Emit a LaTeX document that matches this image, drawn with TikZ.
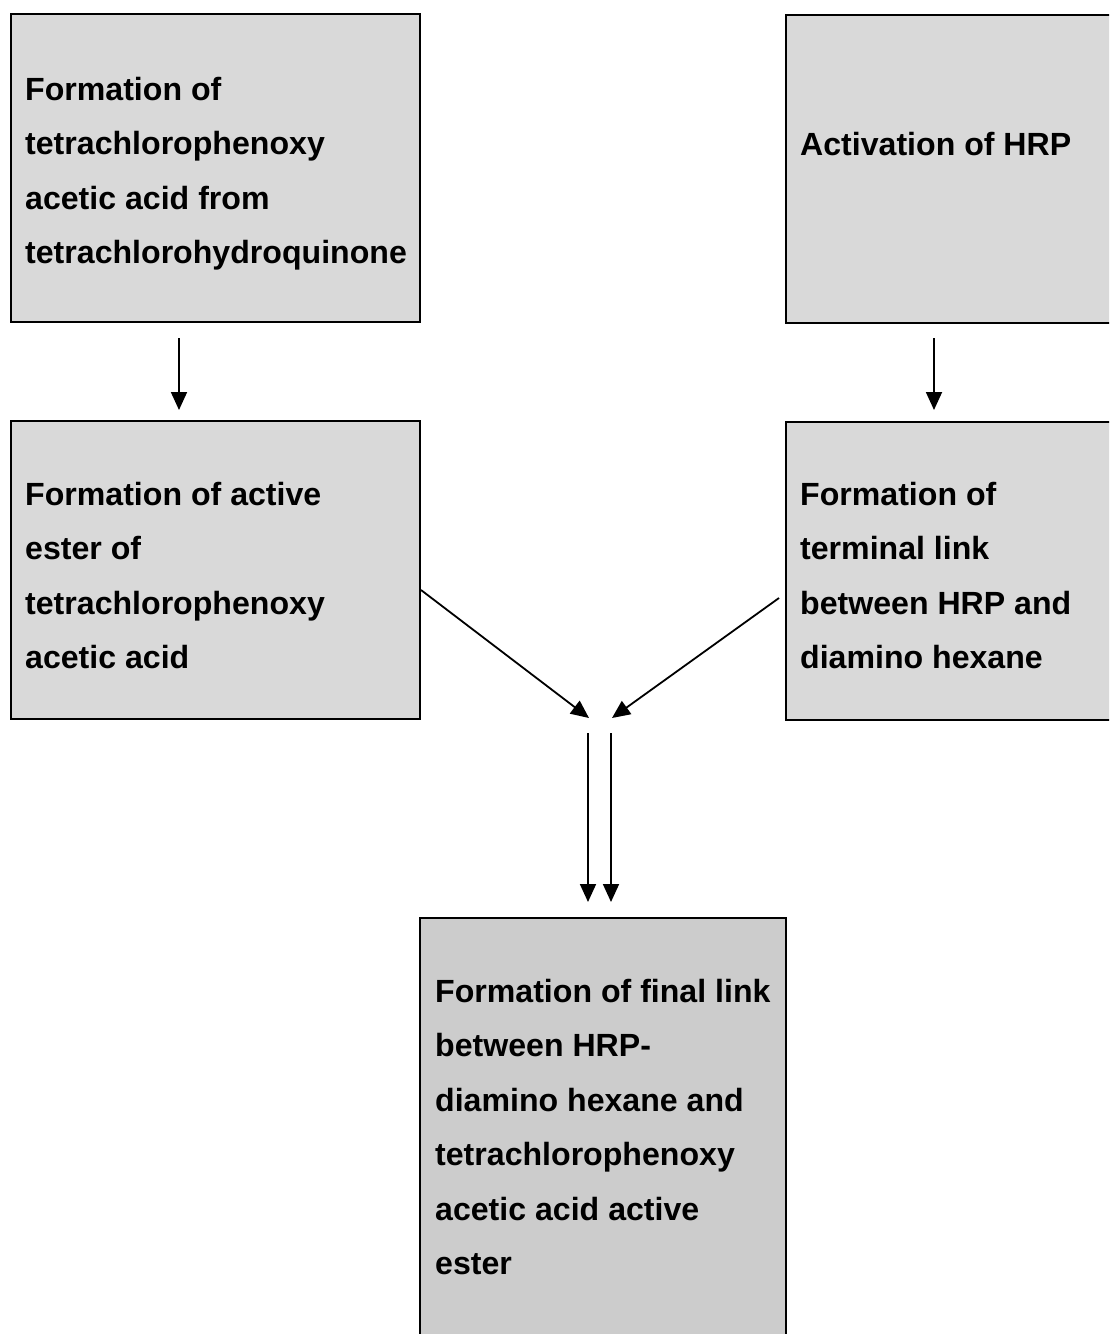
\documentclass[tikz,border=0pt]{standalone}
\usepackage{fontspec}
\setmainfont{Liberation Sans}
\usetikzlibrary{arrows.meta}
\definecolor{boxgray}{HTML}{D9D9D9}
\definecolor{boxgraydark}{HTML}{CCCCCC}
\begin{document}
\begin{tikzpicture}[x=1pt,y=-1pt,
  stepbox/.style={draw=black,line width=2pt,fill=boxgray,rectangle,inner sep=0pt},
  txt/.style={anchor=north west,inner sep=0pt,align=left,
    font=\fontsize{32.1}{54.5}\selectfont\bfseries},
  arr/.style={line width=1.8pt,-{Triangle[length=18pt,width=16pt]}}]
\useasboundingbox (0,0) rectangle (1109,1334);
\clip (0,0) rectangle (1109,1334);
% boxes
\node[stepbox,minimum width=409,minimum height=308] (tl) at (215.5,168) {};
\node[stepbox,minimum width=340,minimum height=308,anchor=north west] (tr) at (785,14) {};
\node[stepbox,minimum width=409,minimum height=298] (ml) at (215.5,570) {};
\node[stepbox,minimum width=340,minimum height=298,anchor=north west] (mr) at (785,421) {};
\node[stepbox,fill=boxgraydark,minimum width=366,minimum height=440,anchor=north west] (bt) at (419,917) {};
% texts
\node[txt] (tltext) at (25,61.85) {\strut Formation of\\tetrachlorophenoxy\\acetic acid from\\tetrachlorohydroquinone};
\node[txt] (trtext) at (800,116.85) {\strut Activation of HRP};
\node[txt] (mltext) at (25,466.85) {\strut Formation of active\\ester of\\tetrachlorophenoxy\\acetic acid};
\node[txt] (mrtext) at (800,466.85) {\strut Formation of\\terminal link\\between HRP and\\diamino hexane};
\node[txt] (bttext) at (435,963.85) {\strut Formation of final link\\between HRP-\\diamino hexane and\\tetrachlorophenoxy\\acetic acid active\\ester};
% arrow end points
\coordinate (a1s) at (179,338);
\coordinate (a1e) at (179,410);
\coordinate (a2s) at (934,338);
\coordinate (a2e) at (934,410);
\coordinate (d1s) at (421,590);
\coordinate (d1e) at (589,718);
\coordinate (d2s) at (779,598);
\coordinate (d2e) at (612,718);
\coordinate (v1s) at (588,733);
\coordinate (v1e) at (588,902);
\coordinate (v2s) at (611,733);
\coordinate (v2e) at (611,902);
\draw[arr] (a1s) -- (a1e);
\draw[arr] (a2s) -- (a2e);
\draw[arr] (d1s) -- (d1e);
\draw[arr] (d2s) -- (d2e);
\draw[arr] (v1s) -- (v1e);
\draw[arr] (v2s) -- (v2e);
\end{tikzpicture}
\end{document}
